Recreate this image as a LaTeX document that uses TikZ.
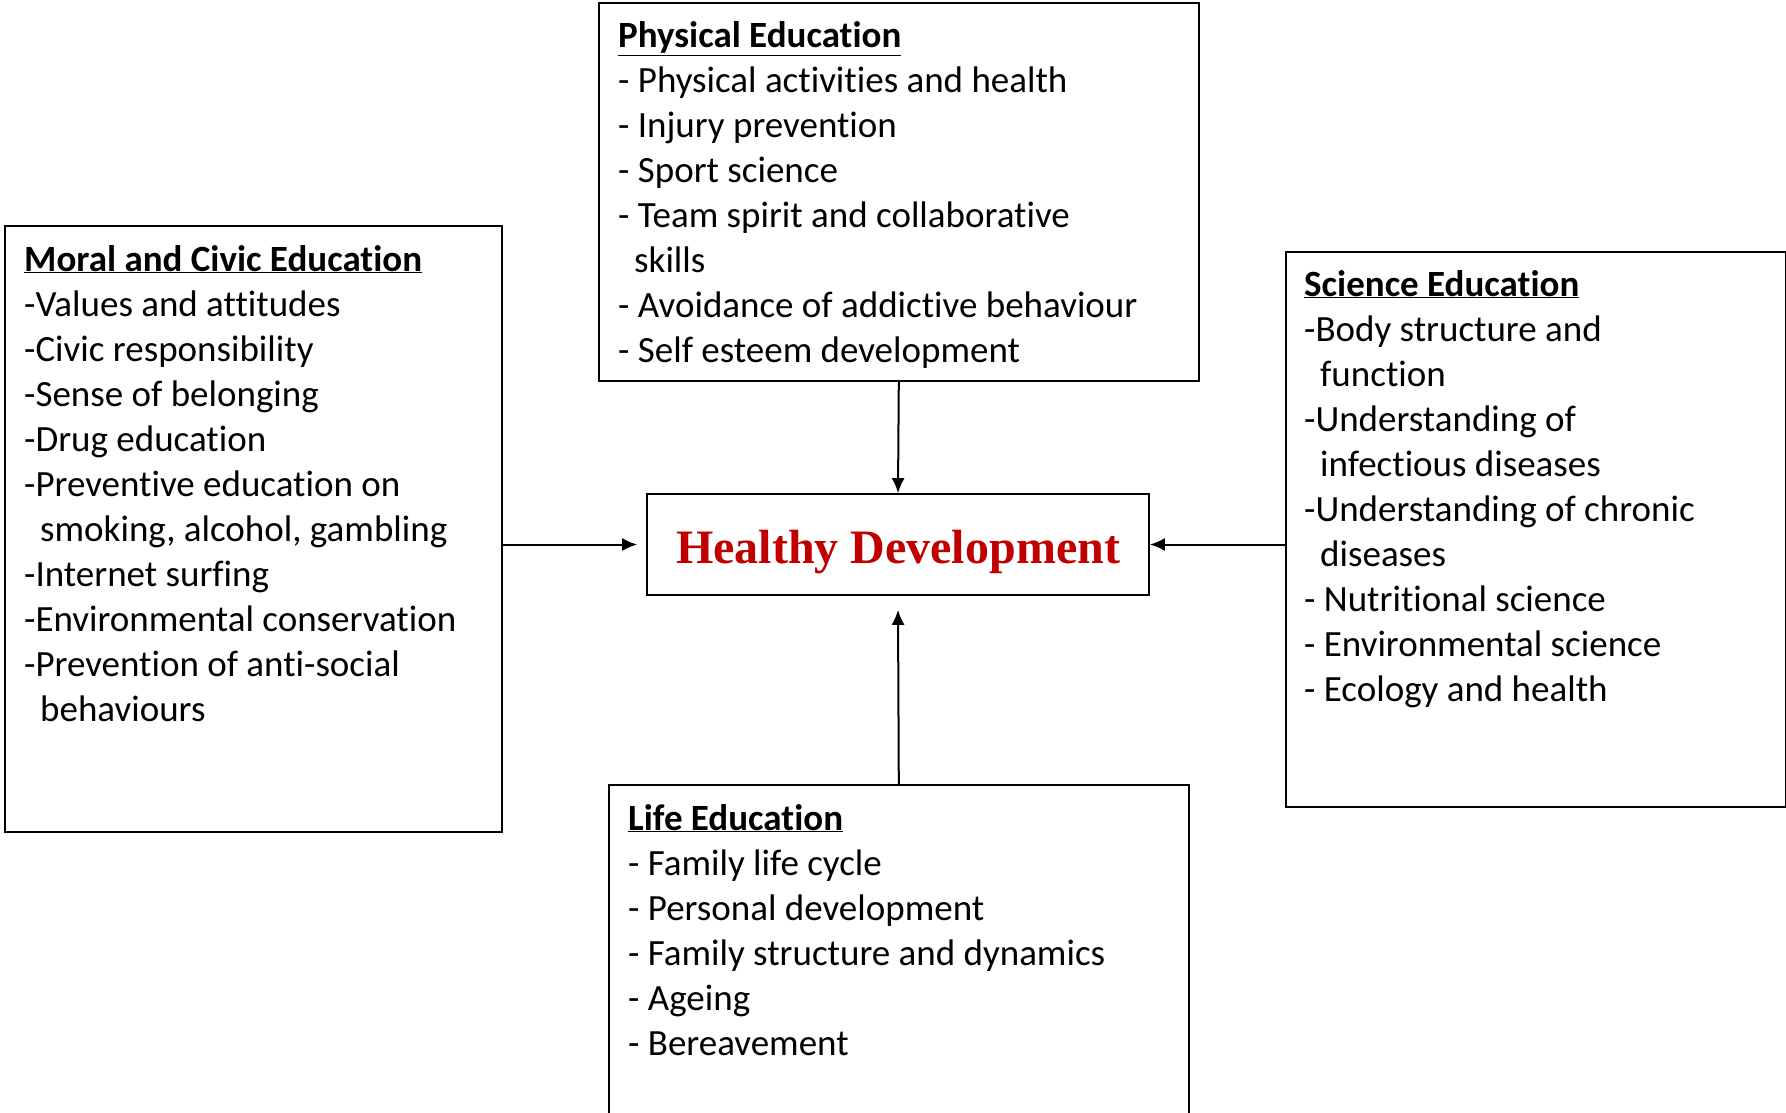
\documentclass[tikz,border=0pt]{standalone}
\usepackage{fontspec}
\setmainfont{Carlito}[Ligatures={NoCommon,TeX}]
\newfontfamily\hdfont{Liberation Serif}
\usetikzlibrary{arrows.meta}
\definecolor{hdred}{HTML}{C00000}
\tikzset{
  boxnode/.style={draw, line width=1.6pt, inner sep=0pt, anchor=north west},
  txt/.style={anchor=base west, inner sep=0pt, font=\fontsize{37}{45}\selectfont},
  arr/.style={line width=2pt, -{Latex[length=15pt,width=13pt]}},
}
\newcommand{\ttl}[1]{\textbf{\underline{#1}}}
\newcommand{\ind}{\hspace*{16pt}}
\newcommand{\txtsetup}{\raggedright\hyphenpenalty=10000\exhyphenpenalty=10000}
\begin{document}
\begin{tikzpicture}[x=1pt,y=-1pt]
\useasboundingbox (0,0) rectangle (1786,1113);
% boxes
\node[boxnode, minimum width=600pt, minimum height=378pt] (phys) at (598,2) {};
\node[boxnode, minimum width=497pt, minimum height=606pt] (moral) at (4,225) {};
\node[boxnode, minimum width=500pt, minimum height=555pt] (sci) at (1285,251) {};
\node[boxnode, minimum width=580pt, minimum height=334pt] (life) at (608,784) {};
\node[draw, line width=1.6pt, inner sep=0pt, minimum width=502pt, minimum height=101pt] (hd) at (898,544.5) {};
\node[anchor=base, inner sep=0pt, font=\hdfont\bfseries\fontsize{48}{58}\selectfont, text=hdred] (hdtxt) at (898,563) {Healthy Development};
% texts
\node[txt] (phystxt) at (618,48) {\begin{minipage}[t]{570pt}\txtsetup
\ttl{Physical Education}\\
- Physical activities and health\\
- Injury prevention\\
- Sport science\\
- Team spirit and collaborative\\
\ind skills\\
- Avoidance of addictive behaviour\\
- Self esteem development
\end{minipage}};
\node[txt] (moraltxt) at (24,271) {\begin{minipage}[t]{470pt}\txtsetup
\ttl{Moral and Civic Education}\\
-Values and attitudes\\
-Civic responsibility\\
-Sense of belonging\\
-Drug education\\
-Preventive education on\\
\ind smoking, alcohol, gambling\\
-Internet surfing\\
-Environmental conservation\\
-Prevention of anti-social\\
\ind behaviours
\end{minipage}};
\node[txt] (scitxt) at (1304,296) {\begin{minipage}[t]{470pt}\txtsetup
\ttl{Science Education}\\
-Body structure and\\
\ind function\\
-Understanding of\\
\ind infectious diseases\\
-Understanding of chronic\\
\ind diseases\\
- Nutritional science\\
- Environmental science\\
- Ecology and health
\end{minipage}};
\node[txt] (lifetxt) at (628,830) {\begin{minipage}[t]{550pt}\txtsetup
\ttl{Life Education}\\
- Family life cycle\\
- Personal development\\
- Family structure and dynamics\\
- Ageing\\
- Bereavement
\end{minipage}};
% arrows
\draw[arr] (phys.south) -- (hd.north);
\draw[arr] (life.north) -- ([yshift=-14pt]hd.south);
\draw[arr] (moral.east |- hd.west) -- ([xshift=-9pt]hd.west);
\draw[arr] (sci.west |- hd.east) -- (hd.east);
\end{tikzpicture}
\end{document}
